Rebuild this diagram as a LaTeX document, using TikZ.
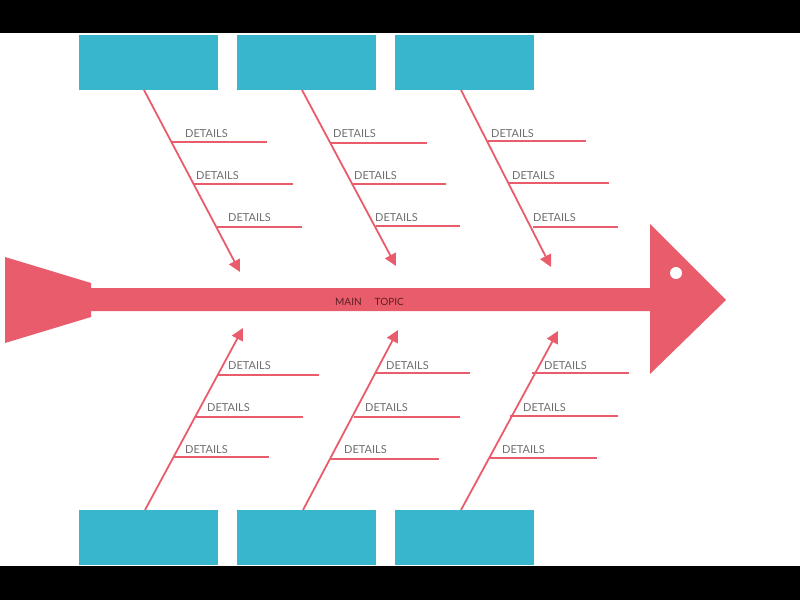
\documentclass[tikz,border=0pt]{standalone}
\usepackage{fontspec}
\setmainfont{Lato}
\usetikzlibrary{arrows.meta}
\definecolor{fishred}{HTML}{E95C6B}
\definecolor{boxblue}{HTML}{37B6CE}
\definecolor{lblgray}{HTML}{6E6E6E}
\definecolor{maintxt}{HTML}{5B1E22}
\tikzset{
  catbox/.style={fill=boxblue, draw=none, minimum width=139pt, minimum height=55pt, inner sep=0pt},
  bone/.style={draw=fishred, line width=1.8pt, -{Triangle[length=12pt,width=12pt]}},
  rib/.style={draw=fishred, line width=1.8pt},
  lbl/.style={anchor=west, inner sep=0pt, text=lblgray, font=\fontsize{11}{13}\selectfont, yshift=-1pt},
}
\begin{document}
\begin{tikzpicture}[x=1pt,y=-1pt]
\useasboundingbox (0,0) rectangle (800,600);
\fill[black] (0,0) rectangle (800,33);
\fill[black] (0,566) rectangle (800,600);

% fish body
\fill[fishred] (5,257) -- (91,283) -- (91,288) -- (650,288) -- (650,224) -- (726,300)
  -- (650,374) -- (650,311) -- (91,311) -- (91,317) -- (5,343) -- cycle;
\fill[white] (676,273) circle (6);
\node[anchor=west, inner sep=0pt, text=maintxt, font=\fontsize{10}{12}\selectfont] (main) at (335,301.5) {MAIN\hspace{13pt}TOPIC};

% boxes
\node[catbox] (t1) at (148.5,62.5) {};
\node[catbox] (t2) at (306.5,62.5) {};
\node[catbox] (t3) at (464.5,62.5) {};
\node[catbox] (b1) at (148.5,537.5) {};
\node[catbox] (b2) at (306.5,537.5) {};
\node[catbox] (b3) at (464.5,537.5) {};

% spine coordinates
\coordinate (t1s) at (144,90);  \coordinate (t1e) at (240,272);
\coordinate (t2s) at (302,90);  \coordinate (t2e) at (396,266);
\coordinate (t3s) at (461,90);  \coordinate (t3e) at (551,267);
\coordinate (b1s) at (145,510); \coordinate (b1e) at (243,328);
\coordinate (b2s) at (303,510); \coordinate (b2e) at (398,330);
\coordinate (b3s) at (461,510); \coordinate (b3e) at (558,331);

\draw[bone] (t1s) -- (t1e);
\draw[bone] (t2s) -- (t2e);
\draw[bone] (t3s) -- (t3e);
\draw[bone] (b1s) -- (b1e);
\draw[bone] (b2s) -- (b2e);
\draw[bone] (b3s) -- (b3e);

% ribs top 1
\draw[rib] (172,142) -- (267,142);
\draw[rib] (194,184) -- (293,184);
\draw[rib] (216,227) -- (302,227);
\node[lbl] at (185,133) {DETAILS};
\node[lbl] at (196,175) {DETAILS};
\node[lbl] at (228,217) {DETAILS};
% ribs top 2
\draw[rib] (330,143) -- (427,143);
\draw[rib] (352,184) -- (446,184);
\draw[rib] (376,226) -- (460,226);
\node[lbl] at (333,133) {DETAILS};
\node[lbl] at (354,175) {DETAILS};
\node[lbl] at (375,217) {DETAILS};
% ribs top 3
\draw[rib] (488,141) -- (586,141);
\draw[rib] (509,183) -- (609,183);
\draw[rib] (533,227) -- (618,227);
\node[lbl] at (491,133) {DETAILS};
\node[lbl] at (512,175) {DETAILS};
\node[lbl] at (533,217) {DETAILS};
% ribs bottom 1
\draw[rib] (217,375) -- (319,375);
\draw[rib] (196,417) -- (303,417);
\draw[rib] (174,457) -- (269,457);
\node[lbl] at (228,365) {DETAILS};
\node[lbl] at (207,407) {DETAILS};
\node[lbl] at (185,449) {DETAILS};
% ribs bottom 2
\draw[rib] (376,373) -- (470,373);
\draw[rib] (354,417) -- (460,417);
\draw[rib] (331,459) -- (439,459);
\node[lbl] at (386,365) {DETAILS};
\node[lbl] at (365,407) {DETAILS};
\node[lbl] at (344,449) {DETAILS};
% ribs bottom 3
\draw[rib] (532,373) -- (629,373);
\draw[rib] (510,416) -- (618,416);
\draw[rib] (489,458) -- (597,458);
\node[lbl] at (544,365) {DETAILS};
\node[lbl] at (523,407) {DETAILS};
\node[lbl] at (502,449) {DETAILS};
\end{tikzpicture}
\end{document}
